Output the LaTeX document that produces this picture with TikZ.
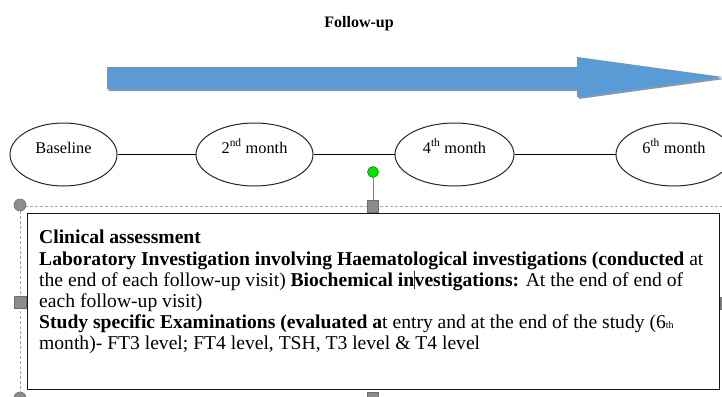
\documentclass[tikz,border=0pt]{standalone}
\usepackage{fontspec}
\setmainfont{Liberation Serif}
\usetikzlibrary{shapes.geometric}
\definecolor{arrowblue}{HTML}{5B9BD5}
\definecolor{shadowgray}{HTML}{8A98A6}
\definecolor{handlegray}{HTML}{8C8C8C}
\definecolor{handleedge}{HTML}{6E6E6E}
\definecolor{rotgreen}{HTML}{00E400}
\definecolor{framegray}{HTML}{A8A8A8}
\begin{document}
\begin{tikzpicture}[x=1pt,y=-1pt,
  visit/.style={ellipse, draw=black!85, line width=1pt, inner sep=0pt,
    font=\fontsize{16.3}{18}\selectfont, text height=12pt, text depth=15pt,
    minimum height=63pt},
  link/.style={draw=black, line width=1.3pt},
  handle/.style={fill=handlegray, draw=handleedge, line width=0.6pt, inner sep=0pt},
  selframe/.style={draw=framegray, dash pattern=on 3pt off 2pt, line width=0.7pt}]
\useasboundingbox (0,0) rectangle (722,396);
\fill[white] (0,0) rectangle (722,396);

% title
\node[font=\fontsize{16}{18}\selectfont\bfseries] (title) at (359,24) {Follow-up};

% big arrow with shadow
\fill[shadowgray, shift={(1.5,2)}] (107,67) -- (577,67) -- (577,57) -- (723,77) -- (577,97) -- (577,89) -- (107,89) -- cycle;
\fill[arrowblue] (107,67) -- (577,67) -- (577,57) -- (723,77) -- (577,97) -- (577,89) -- (107,89) -- cycle;

% timeline
\node[visit, minimum width=107pt] (b0) at (63.5,154.5) {Baseline};
\node[visit, minimum width=117pt] (b1) at (254.5,154.5) {2\textsuperscript{nd} month};
\node[visit, minimum width=119pt] (b2) at (454.5,154.5) {4\textsuperscript{th} month};
\node[visit, minimum width=116pt] (b3) at (674,154.5) {6\textsuperscript{th} month};
\draw[link] (b0) -- (b1);
\draw[link] (b1) -- (b2);
\draw[link] (b2) -- (b3);

% selection frame
\draw[selframe] (20,206) -- (722,206);
\draw[selframe] (20,206) -- (20,396);

% text box
\node[draw=black!90, line width=1.2pt, minimum width=692pt, minimum height=176pt, anchor=north west, inner sep=0pt] (box) at (27,213) {};
\node[anchor=north west, inner sep=0pt, align=left, font=\fontsize{19.6}{21.2}\selectfont] (txt) at (39,230) {%
\textbf{Clinical assessment}\\
\textbf{Laboratory Investigation involving Haematological investigations (conducted} at\\
the end of each follow-up visit) \textbf{Biochemical in\textcolor{black!80}{\rule[-0.15em]{0.5pt}{0.95em}}vestigations:} At the end of end of\\
each follow-up visit)\\
\textbf{Study specific Examinations (evaluated a}t entry and at the end of the study (6{\fontsize{10}{10}\selectfont th}\\
month)- FT3 level; FT4 level, TSH, T3 level \& T4 level};

% handles
\node[circle, fill=rotgreen, draw=green!45!black, line width=0.5pt, minimum size=11pt, inner sep=0pt] (rot) at (373,172) {};
\node[handle, rectangle, minimum width=11pt, minimum height=12pt] (hT) at (373,206) {};
\draw[draw=gray, line width=0.8pt] (rot) -- (hT);
\node[handle, circle, minimum size=12pt] (hTL) at (20,205) {};
\node[handle, circle, minimum size=12pt] (hBL) at (20,398) {};
\node[handle, rectangle, minimum width=12pt, minimum height=12pt] (hL) at (20,302) {};
\node[handle, rectangle, minimum width=11pt, minimum height=12pt] (hB) at (373,398) {};
\node[handle, rectangle, minimum width=6pt, minimum height=12pt] (hR) at (723,303) {};
\end{tikzpicture}
\end{document}
